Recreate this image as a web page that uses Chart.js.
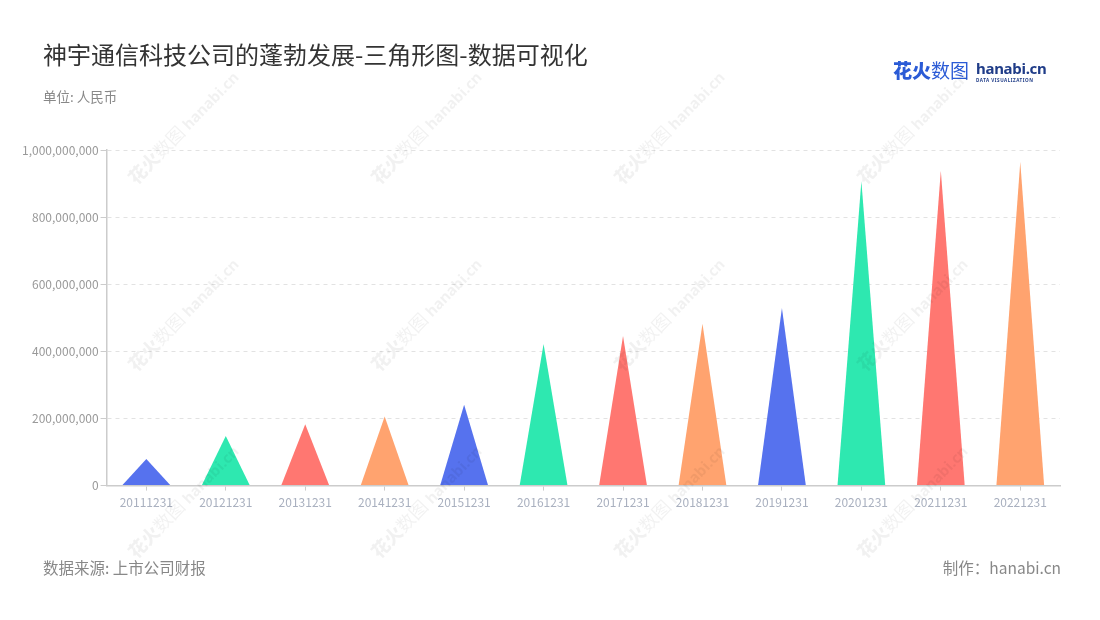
<!DOCTYPE html>
<html>
<head>
<meta charset="utf-8">
<script src="https://cdn.jsdelivr.net/npm/chart.js@4.4.0/dist/chart.umd.min.js"></script>
<style>
  html, body { margin: 0; padding: 0; background: #fff; }
  body { width: 1100px; height: 620px; position: relative; overflow: hidden; font-family: "Noto Sans CJK SC", "Noto Sans", sans-serif; }
  #wrap { position: absolute; left: 0; top: 0; width: 1100px; height: 620px; }
  .title { position: absolute; left: 43px; top: 39px; font-size: 24px; color: #333; line-height: 30px; }
  .unit { position: absolute; left: 43px; top: 87px; font-size: 13.5px; color: #888; line-height: 18px; }
  .source { position: absolute; left: 43px; top: 556px; font-size: 15.5px; color: #888; line-height: 22px; }
  .maker { position: absolute; right: 39px; top: 556px; font-size: 15.5px; color: #888; line-height: 22px; }
  .logo { position: absolute; left: 893px; top: 58px; height: 28px; }
  .logo .cn { position: absolute; left: 0; top: 0; font-size: 19px; line-height: 24px; color: #2b5bd6; white-space: nowrap; }
  .logo .cn b { font-weight: 900; }
  .logo .en { position: absolute; left: 83px; top: 1px; font-family: "Noto Sans", sans-serif; font-size: 15px; font-weight: 700; line-height: 18px; color: #1f3c88; letter-spacing: -0.3px; }
  .logo .sub { position: absolute; left: 83px; top: 19px; font-family: "Noto Sans", sans-serif; font-size: 4.6px; font-weight: 700; line-height: 6px; color: #1f3c88; letter-spacing: 0.5px; white-space: nowrap; }
  .wm { position: absolute; white-space: nowrap; color: rgba(0,0,0,0.055); font-size: 18px; line-height: 20px; transform: translate(-50%, -50%) rotate(-46deg); pointer-events: none; }
  .wm b { font-weight: 900; }
  .wm span { font-family: "Noto Sans", sans-serif; font-weight: 700; font-size: 15px; margin-left: 4px; }
</style>
</head>
<body>
<div id="wrap"><canvas id="chart" width="1100" height="620"></canvas></div>
<div class="title">神宇通信科技公司的蓬勃发展-三角形图-数据可视化</div>
<div class="unit">单位: 人民币</div>
<div class="logo">
  <div class="cn"><b>花火</b>数图</div>
  <div class="en">hanabi.cn</div>
  <div class="sub">DATA VISUALIZATION</div>
</div>
<div class="source">数据来源: 上市公司财报</div>
<div class="maker">制作：hanabi.cn</div>
<div id="marks"></div>
<script>
var years = ['20111231', '20121231', '20131231', '20141231', '20151231', '20161231',
             '20171231', '20181231', '20191231', '20201231', '20211231', '20221231'];
var revenue = [79000000, 148000000, 183000000, 206000000, 241000000, 422000000,
               446000000, 482000000, 529000000, 907000000, 938000000, 964000000];
var palette = ['#5672ee', '#2ee8b0', '#ff7771', '#ffa36f'];
var yTicks = [0, 200000000, 400000000, 600000000, 800000000, 1000000000];

// watermark grid
var marks = document.getElementById('marks');
for (var r = 0; r < 3; r++) {
  for (var c = 0; c < 4; c++) {
    var el = document.createElement('div');
    el.className = 'wm';
    el.innerHTML = '<b>花火</b>数图<span>hanabi.cn</span>';
    el.style.left = (183 + 243 * c) + 'px';
    el.style.top = (127 + 187 * r) + 'px';
    marks.appendChild(el);
  }
}

var triangles = {
  id: 'triangles',
  afterDatasetsDraw: function(chart) {
    var ctx = chart.ctx;
    var meta = chart.getDatasetMeta(0);
    ctx.save();
    meta.data.forEach(function(bar, i) {
      var half = bar.width / 2;
      ctx.beginPath();
      ctx.moveTo(bar.x - half, bar.base);
      ctx.lineTo(bar.x, bar.y);
      ctx.lineTo(bar.x + half, bar.base);
      ctx.closePath();
      ctx.fillStyle = palette[i % palette.length];
      ctx.fill();
    });
    ctx.restore();
  }
};

new Chart(document.getElementById('chart').getContext('2d'), {
  type: 'bar',
  data: {
    labels: years,
    datasets: [{
      label: '营收',
      data: revenue,
      backgroundColor: 'rgba(0,0,0,0)',
      borderWidth: 0,
      categoryPercentage: 0.8,
      barPercentage: 0.75
    }]
  },
  options: {
    responsive: false,
    animation: false,
    layout: { padding: { left: 20, right: 40, top: 150, bottom: 105 } },
    plugins: {
      legend: { display: false },
      tooltip: { enabled: false }
    },
    scales: {
      x: {
        grid: { display: true, offset: false, drawOnChartArea: false, drawTicks: true, tickLength: 5, color: '#ccc' },
        border: { display: true, color: '#ccc', width: 1.5 },
        ticks: { color: '#a9b0bf', padding: 5, font: { family: 'Noto Sans CJK SC', size: 12 }, maxRotation: 0 }
      },
      y: {
        min: 0,
        max: 1000000000,
        afterBuildTicks: function(axis) {
          axis.ticks = yTicks.map(function(v) { return { value: v }; });
        },
        grid: { color: '#e2e2e2', tickLength: 6, tickColor: '#ccc', tickBorderDash: [] },
        border: { display: true, color: '#ccc', width: 1.5, dash: [4, 4] },
        ticks: {
          color: '#999',
          padding: 2,
          font: { family: 'Noto Sans CJK SC', size: 12 },
          callback: function(v) { return Number(v).toLocaleString('en-US'); }
        }
      }
    }
  },
  plugins: [triangles]
});
</script>
</body>
</html>
